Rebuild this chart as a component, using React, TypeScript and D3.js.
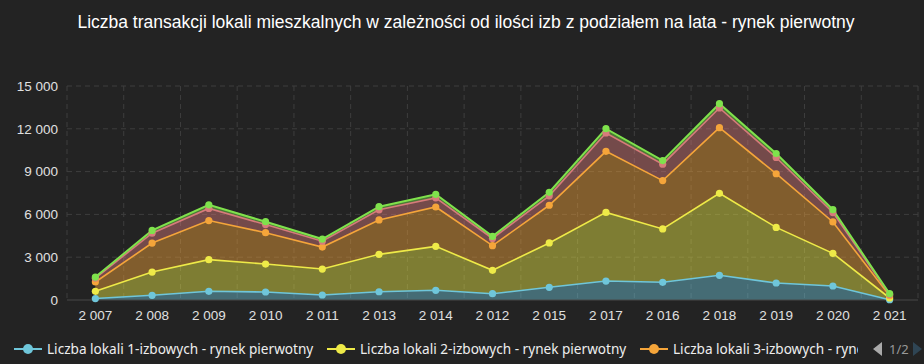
import React from 'react';
import * as d3 from 'd3';

const years = ['2007', '2008', '2009', '2010', '2011', '2013', '2014', '2012', '2015', '2017', '2016', '2018', '2019', '2020', '2021'];
const rooms1 = [100, 330, 610, 560, 350, 580, 680, 440, 890, 1330, 1240, 1730, 1190, 980, 20];
const rooms2 = [510, 1630, 2220, 1960, 1820, 2620, 3080, 1640, 3110, 4810, 3740, 5750, 3900, 2290, 120];
const rooms3 = [650, 2030, 2740, 2200, 1540, 2410, 2760, 1730, 2640, 4280, 3390, 4600, 3760, 2200, 160];
const rooms4 = [270, 690, 850, 570, 410, 710, 640, 500, 660, 1290, 1150, 1380, 1140, 660, 90];
const rooms5 = [80, 200, 250, 200, 150, 220, 250, 150, 250, 300, 250, 300, 280, 200, 50];
const yTicks = [0, 3000, 6000, 9000, 12000, 15000];

const series = [
  { key: 's1', name: 'Liczba lokali 1-izbowych - rynek pierwotny', color: '#6fc6da', values: rooms1 },
  { key: 's2', name: 'Liczba lokali 2-izbowych - rynek pierwotny', color: '#eeea48', values: rooms2 },
  { key: 's3', name: 'Liczba lokali 3-izbowych - rynek pierwotny', color: '#f5a53a', values: rooms3 },
  { key: 's4', name: 'Liczba lokali 4-izbowych - rynek pierwotny', color: '#d77b7b', values: rooms4 },
  { key: 's5', name: 'Liczba lokali 5-izbowych i więcej - rynek pierwotny', color: '#7fe24c', values: rooms5 },
];

const W = 924;
const H = 364;
const left = 67;
const right = 918;
const top = 86;
const bottom = 300;
const fmt = (v: number) => d3.format(',')(v).replace(/,/g, ' ');

export default function App() {
  const x = d3.scaleBand().domain(years).range([left, right]).padding(0);
  const y = d3.scaleLinear().domain([0, 15000]).range([bottom, top]);
  const cx = (yr: string) => (x(yr) as number) + x.bandwidth() / 2;

  const table = years.map((yr, i) => {
    const row: any = { year: yr };
    series.forEach((s) => (row[s.key] = s.values[i]));
    return row;
  });
  const stacked = d3.stack().keys(series.map((s) => s.key))(table);

  const area = d3
    .area<any>()
    .x((d) => cx(d.data.year))
    .y0((d) => y(d[0]))
    .y1((d) => y(d[1]));
  const line = d3
    .line<any>()
    .x((d) => cx(d.data.year))
    .y((d) => y(d[1]));

  const bounds = [...years.map((yr) => x(yr) as number), right];
  const legendItems = [
    { s: series[0], icon: 28, text: 47 },
    { s: series[1], icon: 341, text: 360 },
    { s: series[2], icon: 654, text: 673 },
  ];

  return (
    <div style={{ position: 'fixed', left: 0, top: 0 }}>
      <svg width={W} height={H} style={{ display: 'block', background: '#232323' }}>
        <defs>
          <clipPath id="legclip">
            <rect x={0} y={330} width={858} height={34} />
          </clipPath>
        </defs>
        <text x={W / 2 + 4} y={28} textAnchor="middle" fill="#ffffff" fontFamily="Liberation Sans, Arial, sans-serif" fontSize={17.5}>
          Liczba transakcji lokali mieszkalnych w zależności od ilości izb z podziałem na lata - rynek pierwotny
        </text>

        {yTicks.filter((t) => t > 0).map((t) => (
          <line key={'h' + t} x1={left} x2={right} y1={y(t)} y2={y(t)} stroke="#3e3e3e" strokeDasharray="5,4" />
        ))}
        {bounds.map((b, i) => (
          <line key={'v' + i} x1={b} x2={b} y1={top} y2={bottom} stroke="#3e3e3e" strokeDasharray="5,4" />
        ))}

        {stacked.map((layer, i) => (
          <path key={'a' + i} d={area(layer as any) || ''} fill={series[i].color} fillOpacity={0.45} />
        ))}
        <line x1={left} x2={right} y1={bottom} y2={bottom} stroke="#484848" />
        {stacked.map((layer, i) => (
          <path key={'l' + i} d={line(layer as any) || ''} fill="none" stroke={series[i].color} strokeWidth={i === 4 ? 2 : 1.6} />
        ))}
        {stacked.map((layer, i) =>
          layer.map((d: any, j: number) => (
            <circle key={'c' + i + '-' + j} cx={cx(d.data.year)} cy={y(d[1])} r={3.6} fill={series[i].color} />
          ))
        )}

        {yTicks.map((t) => (
          <text key={'yt' + t} x={58} y={y(t)} dy="0.35em" textAnchor="end" fill="#e0e0e0" fontFamily="Liberation Sans, Arial, sans-serif" fontSize={13.5}>
            {fmt(t)}
          </text>
        ))}
        {years.map((yr) => (
          <text key={'xt' + yr} x={cx(yr)} y={320} textAnchor="middle" fill="#e0e0e0" fontFamily="Liberation Sans, Arial, sans-serif" fontSize={13.5}>
            {fmt(+yr)}
          </text>
        ))}

        <g clipPath="url(#legclip)">
          {legendItems.map(({ s, icon, text }) => (
            <g key={'lg' + s.key}>
              <line x1={icon - 14} x2={icon + 14} y1={349} y2={349} stroke={s.color} strokeWidth={2} />
              <circle cx={icon} cy={349} r={5} fill={s.color} />
              <text x={text} y={349} dy="0.35em" fill="#eeeeee" fontFamily="Noto Sans, sans-serif" fontSize={13.6}>
                {s.name}
              </text>
            </g>
          ))}
        </g>
        <path d="M882,342 L882,356 L873,349 Z" fill="#aaaaaa" />
        <text x={889} y={349} dy="0.35em" fill="#999999" fontFamily="Noto Sans, sans-serif" fontSize={13}>
          1/2
        </text>
        <path d="M913,342 L913,356 L922,349 Z" fill="#2f4554" />
      </svg>
    </div>
  );
}
